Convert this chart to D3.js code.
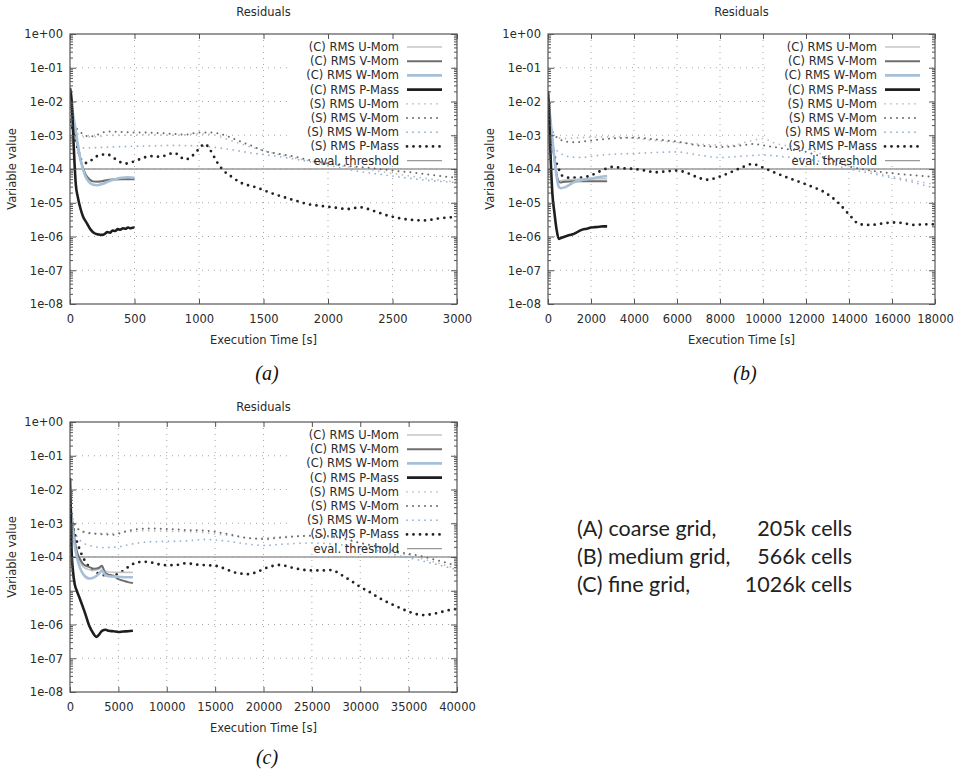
<!DOCTYPE html>
<html>
<head>
<meta charset="utf-8">
<script src="https://cdn.jsdelivr.net/npm/d3@7.9.0/dist/d3.min.js"></script>
<style>
  body { margin: 0; background: #fff; }
  svg { display: block; }
  .tick text { font-family: "DejaVu Sans", sans-serif; font-size: 11.5px; fill: #2a2a2a; }
</style>
</head>
<body>
<svg id="fig" width="958" height="775"></svg>
<script>
// ---- data: [time (s), residual] ----
const threshold = 1e-4;

const legendLabels = ['(C) RMS U-Mom', '(C) RMS V-Mom', '(C) RMS W-Mom', '(C) RMS P-Mass',
  '(S) RMS U-Mom', '(S) RMS V-Mom', '(S) RMS W-Mom', '(S) RMS P-Mass', 'eval. threshold'];

// (a) coarse grid
const aC_U = [[0,1e-2],[20,3.5e-3],[40,1.3e-3],[60,4.5e-4],[80,1.9e-4],[100,1e-4],[120,6.5e-5],[150,4.8e-5],[180,4.2e-5],[220,4.3e-5],[260,4.6e-5],[300,4.9e-5],[350,5.1e-5],[400,5.2e-5],[450,5.2e-5],[500,5.2e-5]];
const aC_V = [[0,1.2e-2],[20,4e-3],[40,1.5e-3],[60,5e-4],[80,2e-4],[100,1.1e-4],[120,7e-5],[150,5e-5],[180,4.3e-5],[220,4.2e-5],[260,4.4e-5],[300,4.7e-5],[350,4.9e-5],[400,5e-5],[450,5e-5],[500,5e-5]];
const aC_W = [[0,1.5e-2],[20,5e-3],[40,1.8e-3],[60,5.5e-4],[80,2e-4],[100,1e-4],[120,6e-5],[150,4e-5],[180,3.4e-5],[210,3.3e-5],[250,3.6e-5],[300,4.3e-5],[350,5e-5],[400,5.5e-5],[450,5.7e-5],[500,5.5e-5]];
const aC_P = [[0,2.5e-2],[15,8e-3],[25,1e-3],[35,1.5e-4],[45,3.5e-5],[60,1.5e-5],[80,7e-6],[100,4e-6],[130,2.5e-6],[160,1.6e-6],[190,1.25e-6],[220,1.15e-6],[250,1.12e-6],[270,1.2e-6],[290,1.35e-6],[310,1.3e-6],[330,1.5e-6],[350,1.45e-6],[370,1.65e-6],[390,1.6e-6],[410,1.75e-6],[430,1.7e-6],[450,1.85e-6],[470,1.75e-6],[490,1.85e-6],[500,1.8e-6]];
const aS_U = [[0,2e-3],[50,1.2e-3],[100,9e-4],[200,9e-4],[300,1e-3],[400,1e-3],[600,1.05e-3],[800,1e-3],[1000,1.1e-3],[1100,1.05e-3],[1200,8e-4],[1400,4.5e-4],[1600,2.8e-4],[1800,1.9e-4],[2000,1.4e-4],[2200,1.1e-4],[2400,8.5e-5],[2600,6.5e-5],[2800,5e-5],[3000,4.2e-5]];
const aS_V = [[0,3e-3],[50,1.6e-3],[100,1.1e-3],[150,9e-4],[200,1e-3],[300,1.3e-3],[400,1.25e-3],[500,1.2e-3],[600,1.2e-3],[700,1.15e-3],[800,1.1e-3],[900,1.05e-3],[1000,1.2e-3],[1100,1.2e-3],[1200,1e-3],[1300,7e-4],[1400,5e-4],[1500,3.5e-4],[1700,2.5e-4],[1900,1.7e-4],[2100,1.3e-4],[2300,1.1e-4],[2500,9e-5],[2700,7.5e-5],[2900,6e-5],[3000,5.5e-5]];
const aS_W = [[0,1.5e-3],[50,6e-4],[100,4.2e-4],[200,4.3e-4],[400,4.6e-4],[600,4.8e-4],[800,5e-4],[1000,4.8e-4],[1200,4e-4],[1400,3e-4],[1600,2.4e-4],[1800,1.8e-4],[2000,1.3e-4],[2200,9e-5],[2400,7e-5],[2600,5.5e-5],[2800,4.5e-5],[3000,4e-5]];
const aS_P = [[0,2.5e-3],[30,1.2e-3],[60,4e-4],[90,1.8e-4],[130,1.5e-4],[180,2e-4],[230,2.6e-4],[290,2.7e-4],[340,2.1e-4],[390,1.6e-4],[430,1.45e-4],[480,1.6e-4],[550,2e-4],[620,2.4e-4],[700,2.3e-4],[760,2.7e-4],[810,3e-4],[850,2.4e-4],[890,1.9e-4],[940,2.3e-4],[990,3.6e-4],[1045,5.5e-4],[1090,3.5e-4],[1140,1.6e-4],[1190,9e-5],[1250,6e-5],[1320,4e-5],[1450,2.8e-5],[1550,2e-5],[1650,1.5e-5],[1750,1.15e-5],[1850,9e-6],[1950,8e-6],[2050,7.2e-6],[2150,6.5e-6],[2250,7.3e-6],[2350,5.8e-6],[2450,4.3e-6],[2550,3.5e-6],[2650,3.1e-6],[2750,3e-6],[2850,3.4e-6],[2950,3.7e-6],[3000,3.8e-6]];

// (b) medium grid
const bC_U = [[0,8e-3],[100,2.5e-3],[200,6e-4],[300,1.8e-4],[400,7e-5],[500,4.5e-5],[700,4.6e-5],[1000,4.8e-5],[1500,5e-5],[2000,5.1e-5],[2750,5.2e-5]];
const bC_V = [[0,1e-2],[100,3e-3],[200,7e-4],[300,2e-4],[400,7e-5],[500,4.2e-5],[600,4e-5],[800,4.2e-5],[1200,4.3e-5],[1600,4.3e-5],[2000,4.3e-5],[2400,4.3e-5],[2750,4.3e-5]];
const bC_W = [[0,1.2e-2],[100,3.5e-3],[200,8e-4],[300,2e-4],[400,6e-5],[500,3e-5],[600,2.7e-5],[800,2.9e-5],[1000,3.4e-5],[1200,4e-5],[1500,4.6e-5],[2000,5.2e-5],[2400,5.8e-5],[2750,6.2e-5]];
const bC_P = [[0,2e-2],[50,5e-3],[100,5e-4],[150,8e-5],[200,2e-5],[300,5e-6],[400,1.6e-6],[500,8.5e-7],[600,9e-7],[800,1e-6],[1000,1.1e-6],[1200,1.2e-6],[1400,1.4e-6],[1600,1.6e-6],[1800,1.7e-6],[2000,1.85e-6],[2200,1.9e-6],[2400,1.95e-6],[2600,2e-6],[2750,2e-6]];
const bS_U = [[0,2e-3],[300,1e-3],[700,8e-4],[1500,8.5e-4],[3000,9e-4],[5000,7e-4],[7000,5.5e-4],[8500,5e-4],[9500,7e-4],[10000,8e-4],[10500,6e-4],[12000,4e-4],[14000,1.3e-4],[16000,6e-5],[18000,3.5e-5]];
const bS_V = [[0,4e-3],[200,1.3e-3],[500,8e-4],[800,6.5e-4],[1200,6.2e-4],[2000,7e-4],[3000,8e-4],[4000,8.5e-4],[5000,7.5e-4],[6000,6.5e-4],[7000,5e-4],[8000,4.5e-4],[9000,5e-4],[9500,5.5e-4],[10000,5e-4],[11000,4e-4],[12000,3.2e-4],[13000,2e-4],[14000,1.2e-4],[15000,9e-5],[16000,7.5e-5],[17000,6.5e-5],[18000,5.8e-5]];
const bS_W = [[0,1.5e-3],[200,5e-4],[500,3.2e-4],[1000,2.3e-4],[1500,2.2e-4],[2500,2.6e-4],[4000,2.9e-4],[6000,3.2e-4],[7000,2.6e-4],[8000,2.2e-4],[9000,2.4e-4],[10000,2.6e-4],[11000,2.3e-4],[12000,2e-4],[13000,1.5e-4],[14000,1e-4],[15000,7.5e-5],[16000,5.5e-5],[17000,4e-5],[18000,2.7e-5]];
const bS_P = [[0,3e-3],[150,8e-4],[300,2.5e-4],[500,1e-4],[700,6e-5],[1000,5.5e-5],[1500,5.5e-5],[2000,6.5e-5],[2500,9e-5],[3000,1.15e-4],[3500,1.05e-4],[4000,1e-4],[4500,9e-5],[5000,8e-5],[5500,8.5e-5],[6000,9e-5],[6500,7.5e-5],[7000,5.5e-5],[7400,4.8e-5],[8000,6e-5],[8500,8e-5],[9000,1.1e-4],[9500,1.4e-4],[10000,1.1e-4],[10500,8e-5],[11000,6e-5],[12000,3.5e-5],[13000,1.8e-5],[13500,1e-5],[14000,4.5e-6],[14500,2.3e-6],[15000,2.2e-6],[15500,2.4e-6],[16000,2.6e-6],[16500,2.5e-6],[17000,2.2e-6],[17500,2.3e-6],[18000,2.3e-6]];

// (c) fine grid
const cC_U = [[0,4e-3],[150,1.5e-3],[350,5e-4],[700,1.3e-4],[1000,7e-5],[1400,5e-5],[2000,4.2e-5],[2500,4e-5],[3000,4.3e-5],[3300,5e-5],[3600,4e-5],[4000,3.6e-5],[5000,3.5e-5],[6000,3.5e-5],[6500,3.5e-5]];
const cC_V = [[0,6e-3],[150,2e-3],[350,6e-4],[700,1.5e-4],[1000,9e-5],[1400,6e-5],[2000,5e-5],[2500,4.5e-5],[3000,4.8e-5],[3300,5.5e-5],[3600,3.5e-5],[4000,3e-5],[4500,2.8e-5],[5000,2.2e-5],[5500,2e-5],[6000,1.8e-5],[6500,1.7e-5]];
const cC_W = [[0,5e-3],[150,1.5e-3],[350,4e-4],[700,1e-4],[1000,5e-5],[1400,3e-5],[2000,2.3e-5],[2500,2.5e-5],[3000,3.2e-5],[3300,4e-5],[3600,3e-5],[4000,2.7e-5],[5000,2.6e-5],[6000,2.5e-5],[6500,2.5e-5]];
const cC_P = [[0,2.2e-2],[150,2e-4],[300,4e-5],[500,1.5e-5],[700,1e-5],[1000,6e-6],[1300,3.5e-6],[1600,2e-6],[2000,9e-7],[2400,5.5e-7],[2700,4.3e-7],[3000,5e-7],[3300,6.5e-7],[3700,7e-7],[4000,6.5e-7],[4500,6.3e-7],[5000,6e-7],[5500,6.2e-7],[6000,6.3e-7],[6500,6.5e-7]];
const cS_U = [[0,2e-3],[400,1e-3],[1000,6e-4],[2000,5e-4],[4000,5e-4],[6000,5.5e-4],[8000,6e-4],[10000,5.8e-4],[13000,5.5e-4],[16000,4.5e-4],[19000,3.6e-4],[22000,4e-4],[25000,4.3e-4],[28000,3.5e-4],[31000,2.2e-4],[34000,1.3e-4],[37000,8e-5],[40000,4.5e-5]];
const cS_V = [[0,3e-3],[300,1.2e-3],[800,7e-4],[1500,5.5e-4],[3000,4.8e-4],[4500,4.6e-4],[6000,6e-4],[8000,7e-4],[10000,6.8e-4],[12000,6.3e-4],[14000,6e-4],[16000,5e-4],[18000,3.8e-4],[20000,3.4e-4],[22000,3.8e-4],[24000,4.2e-4],[26000,4.3e-4],[28000,3.7e-4],[30000,2.6e-4],[32000,2e-4],[34000,1.4e-4],[36000,1.1e-4],[38000,8e-5],[40000,5.5e-5]];
const cS_W = [[0,2e-3],[300,8e-4],[1000,3.2e-4],[2000,2.2e-4],[3500,1.9e-4],[5000,2e-4],[6000,2.3e-4],[8000,2.8e-4],[10000,2.9e-4],[12000,3e-4],[14000,3.3e-4],[16000,3e-4],[18000,2.5e-4],[20000,2.2e-4],[22000,2.4e-4],[25000,2.6e-4],[28000,2.3e-4],[31000,1.7e-4],[34000,1.1e-4],[37000,7e-5],[40000,4.2e-5]];
const cS_P = [[0,2.5e-3],[300,8e-4],[700,3e-4],[1200,1.2e-4],[2000,5e-5],[3000,3.2e-5],[4000,2.8e-5],[5000,3.2e-5],[6000,5e-5],[7000,7e-5],[8000,7.2e-5],[9000,6.2e-5],[10000,5.7e-5],[11000,5.8e-5],[12000,6.5e-5],[13000,6e-5],[14000,5.7e-5],[15000,5.5e-5],[16000,4.5e-5],[17000,3.5e-5],[18500,3.1e-5],[19500,3.8e-5],[20500,5e-5],[21700,5.8e-5],[23000,4.8e-5],[24000,4.2e-5],[25000,4e-5],[26000,4e-5],[27000,4.1e-5],[28000,3e-5],[29000,2e-5],[30000,1.3e-5],[31000,9e-6],[32000,6e-6],[33000,4.3e-6],[34000,3.2e-6],[35000,2.4e-6],[36500,1.9e-6],[38000,2.2e-6],[39000,2.6e-6],[40000,2.9e-6]];

const xTicksA = [0, 500, 1000, 1500, 2000, 2500, 3000];
const xTicksB = [0, 2000, 4000, 6000, 8000, 10000, 12000, 14000, 16000, 18000];
const xTicksC = [0, 5000, 10000, 15000, 20000, 25000, 30000, 35000, 40000];

const gridNames = ['(A) coarse grid,', '(B) medium grid,', '(C) fine grid,'];
const gridCells = ['205k cells', '566k cells', '1026k cells'];

// ---- styles (same order as legendLabels) ----
const styles = [
  { color: '#c6c6c6', width: 1.6, dash: null },
  { color: '#6e6e6e', width: 2, dash: null },
  { color: '#a7c0da', width: 2.6, dash: null },
  { color: '#1e1e1e', width: 2.6, dash: null },
  { color: '#bdbdbd', width: 1.8, dash: '0 6' },
  { color: '#6a6a6a', width: 2, dash: '0 6' },
  { color: '#93b2d4', width: 1.8, dash: '0 6' },
  { color: '#222', width: 2.8, dash: '0 6.5' },
  { color: '#999', width: 1.3, dash: null }
];

const panels = [
  { ox: 0, oy: 0, titleY: 12, xMax: 3000, ticks: xTicksA, tag: '(a)', tagY: 380,
    series: [aC_U, aC_V, aC_W, aC_P, aS_U, aS_V, aS_W, aS_P] },
  { ox: 478, oy: 0, titleY: 12, xMax: 18000, ticks: xTicksB, tag: '(b)', tagY: 380,
    series: [bC_U, bC_V, bC_W, bC_P, bS_U, bS_V, bS_W, bS_P] },
  { ox: 0, oy: 388, titleY: 407, xMax: 40000, ticks: xTicksC, tag: '(c)', tagY: 764,
    series: [cC_U, cC_V, cC_W, cC_P, cS_U, cS_V, cS_W, cS_P] }
];

const svg = d3.select('#fig');
const font = '"DejaVu Sans", sans-serif';
const textCol = '#2a2a2a';
const decades = d3.range(-8, 1).map(e => Math.pow(10, e));
const minors = [];
decades.slice(0, -1).forEach(d => { for (let k = 2; k < 10; k++) minors.push(d * k); });
const fmtExp = d => {
  const e = Math.round(Math.log10(d));
  return '1e' + (e < 0 ? '-' : '+') + String(Math.abs(e)).padStart(2, '0');
};

panels.forEach((p, pi) => {
  const left = p.ox + 70, right = p.ox + 457, top = p.oy + 34, bottom = p.oy + 304;
  const x = d3.scaleLinear().domain([0, p.xMax]).range([left, right]);
  const y = d3.scaleLog().domain([1e-8, 1]).range([bottom, top]);
  const g = svg.append('g');

  const clipId = 'clip' + pi;
  g.append('clipPath').attr('id', clipId).append('rect')
    .attr('x', left).attr('y', top).attr('width', right - left).attr('height', bottom - top);

  // grid
  g.append('g').selectAll('line').data(decades.slice(1, -1)).join('line')
    .attr('x1', left).attr('x2', right).attr('y1', d => y(d)).attr('y2', d => y(d))
    .attr('stroke', '#a5a5a5').attr('stroke-width', 1).attr('stroke-dasharray', '1 5');
  g.append('g').selectAll('line').data(p.ticks.slice(1, -1)).join('line')
    .attr('x1', d => x(d)).attr('x2', d => x(d)).attr('y1', top).attr('y2', bottom)
    .attr('stroke', '#a5a5a5').attr('stroke-width', 1).attr('stroke-dasharray', '1 5');

  // legend background
  const legX = left + 329, legY = top + 13, legStep = 14.2;
  g.append('rect').attr('x', left + 220).attr('y', top + 3)
    .attr('width', right - left - 223).attr('height', legStep * 8 + 4 + 6)
    .attr('fill', '#fff');

  // threshold
  g.append('line').attr('x1', left).attr('x2', right)
    .attr('y1', y(threshold)).attr('y2', y(threshold))
    .attr('stroke', styles[8].color).attr('stroke-width', styles[8].width);

  // series: (S) first, then (C)
  const line = d3.line().x(d => x(d[0])).y(d => y(d[1])).curve(d3.curveMonotoneX);
  const order = [4, 5, 6, 7, 0, 1, 2, 3];
  g.append('g').attr('clip-path', `url(#${clipId})`)
    .selectAll('path').data(order).join('path')
    .attr('d', i => line(p.series[i]))
    .attr('fill', 'none')
    .attr('stroke', i => styles[i].color)
    .attr('stroke-width', i => styles[i].width)
    .attr('stroke-linecap', i => styles[i].dash ? 'round' : 'butt')
    .attr('stroke-linejoin', 'round')
    .attr('stroke-dasharray', i => styles[i].dash);

  // border
  g.append('rect').attr('x', left).attr('y', top).attr('width', right - left).attr('height', bottom - top)
    .attr('fill', 'none').attr('stroke', '#555').attr('stroke-width', 1.2);

  // inner ticks
  const tickCol = '#555';
  const inner = [
    d3.axisRight(y).tickValues(decades).tickSize(6), d3.axisRight(y).tickValues(minors).tickSize(3),
    d3.axisLeft(y).tickValues(decades).tickSize(6), d3.axisLeft(y).tickValues(minors).tickSize(3)
  ];
  inner.forEach((ax, k) => {
    const gx = g.append('g').attr('transform', `translate(${k < 2 ? left : right},0)`)
      .call(ax.tickFormat(''));
    gx.select('.domain').remove();
    gx.selectAll('line').attr('stroke', tickCol);
  });
  [[d3.axisTop(x), bottom], [d3.axisBottom(x), top]].forEach(([ax, yy]) => {
    const gx = g.append('g').attr('transform', `translate(0,${yy})`)
      .call(ax.tickValues(p.ticks).tickSize(5).tickFormat(''));
    gx.select('.domain').remove();
    gx.selectAll('line').attr('stroke', tickCol);
  });

  // tick labels
  const ya = g.append('g').attr('transform', `translate(${left - 7},0)`)
    .call(d3.axisLeft(y).tickValues(decades).tickSize(0).tickFormat(fmtExp));
  ya.select('.domain').remove();
  ya.selectAll('text').attr('x', 0).attr('dy', '0.34em');
  const xa = g.append('g').attr('transform', `translate(0,${bottom + 8})`)
    .call(d3.axisBottom(x).tickValues(p.ticks).tickSize(0).tickFormat(d3.format('d')));
  xa.select('.domain').remove();
  xa.selectAll('text').attr('dy', '0.71em');

  // titles
  g.append('text').attr('x', (left + right) / 2).attr('y', p.titleY).attr('dy', '0.35em')
    .attr('text-anchor', 'middle').attr('font-family', font).attr('font-size', 11.5).attr('fill', textCol)
    .text('Residuals');
  g.append('text').attr('x', (left + right) / 2).attr('y', bottom + 36).attr('dy', '0.35em')
    .attr('text-anchor', 'middle').attr('font-family', font).attr('font-size', 11.5).attr('fill', textCol)
    .text('Execution Time [s]');
  g.append('text').attr('transform', `translate(${p.ox + 12},${(top + bottom) / 2}) rotate(-90)`)
    .attr('dy', '0.35em').attr('text-anchor', 'middle').attr('font-family', font)
    .attr('font-size', 11.5).attr('fill', textCol).text('Variable value');
  g.append('text').attr('x', p.ox + 267).attr('y', p.tagY)
    .attr('text-anchor', 'middle').attr('font-family', '"Liberation Serif", serif')
    .attr('font-style', 'italic').attr('font-size', 20).attr('fill', '#111').text(p.tag);

  // legend
  const leg = g.append('g');
  legendLabels.forEach((lab, i) => {
    const yy = legY + i * legStep;
    leg.append('text').attr('x', legX).attr('y', yy).attr('dy', '0.35em')
      .attr('text-anchor', 'end').attr('font-family', font).attr('font-size', 11.5)
      .attr('fill', textCol).text(lab);
    leg.append('line').attr('x1', legX + 8).attr('x2', legX + 43).attr('y1', yy).attr('y2', yy)
      .attr('stroke', styles[i].color).attr('stroke-width', styles[i].width)
      .attr('stroke-linecap', styles[i].dash ? 'round' : 'butt')
      .attr('stroke-dasharray', styles[i].dash);
  });
});

// grid description block
const info = svg.append('g');
gridNames.forEach((n, i) => {
  const yy = 536 + i * 28;
  info.append('text').attr('x', 577).attr('y', yy).attr('font-family', 'Lato, sans-serif')
    .attr('font-size', 21.5).attr('fill', '#222').text(n);
  info.append('text').attr('x', 852).attr('y', yy).attr('text-anchor', 'end')
    .attr('font-family', 'Lato, sans-serif').attr('font-size', 21.5).attr('fill', '#222').text(gridCells[i]);
});
</script>
</body>
</html>
